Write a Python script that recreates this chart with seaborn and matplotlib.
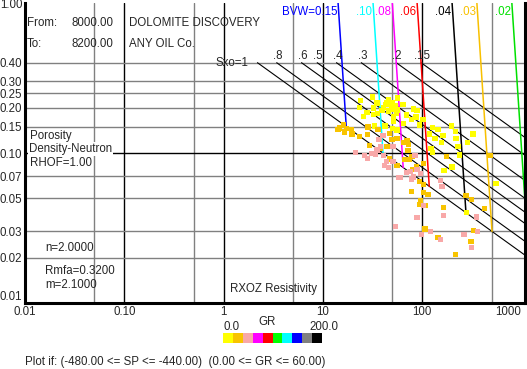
import numpy as np
import pandas as pd
import matplotlib
matplotlib.use("Agg")
import matplotlib.pyplot as plt
from matplotlib.colors import ListedColormap
import seaborn as sns

W, H = 527, 369

# interpretation parameters printed on the chart
n_exp = 2.0
m_exp = 2.1
rmfa = 0.32

x_ticks = [0.01, 0.1, 1, 10, 100, 1000]
x_tick_labels = ["0.01", "0.10", "1", "10", "100", "1000"]
y_ticks = [0.01, 0.02, 0.03, 0.05, 0.07, 0.10, 0.15, 0.20, 0.25, 0.30, 0.40, 1.00]
y_tick_labels = ["0.01", "0.02", "0.03", "0.05", "0.07", "0.10", "0.15", "0.20", "0.25", "0.30", "0.40", "1.00"]

bvw_values = [0.15, 0.10, 0.08, 0.06, 0.04, 0.03, 0.02]
bvw_labels = ["BVW=0.15", ".10", ".08", ".06", ".04", ".03", ".02"]
bvw_colors = ["#0000ff", "#00ffff", "#ff00ff", "#ff0000", "#000000", "#f8c000", "#00e000"]

sxo_values = [1.0, 0.8, 0.6, 0.5, 0.4, 0.3, 0.2, 0.15]
sxo_labels = ["Sxo=1", ".8", ".6", ".5", ".4", ".3", ".2", ".15"]

gr_colors = ["#ffff00", "#f8c400", "#f8a8a8", "#ff00ff", "#ff0000",
             "#00ff00", "#00ffff", "#0000ff", "#808080", "#000000"]

# GR 0-20
yellow_rxo = [31.4, 45.9, 23.8, 56.6, 35.0, 42.5, 47.7, 53.6, 23.4, 32.4,
              49.6, 64.0, 82.0, 88.5, 27.8, 35.6, 39.4, 45.9, 54.8, 32.4,
              25.7, 69.2, 51.5, 86.5, 102, 77.6, 51.5, 65.0, 94.2, 33.0,
              42.2, 127, 196, 50.0, 55.7, 144, 215, 119, 162, 324,
              135, 220, 284, 156, 229, 123, 127, 199, 166, 238,
              552, 278, 44.2, 49.6, 52.0, 40.9, 55.7]
yellow_phi = [0.236, 0.226, 0.224, 0.232, 0.216, 0.210, 0.210, 0.207, 0.202, 0.199,
              0.196, 0.210, 0.196, 0.192, 0.187, 0.183, 0.192, 0.190, 0.185, 0.180,
              0.175, 0.179, 0.175, 0.174, 0.168, 0.168, 0.163, 0.158, 0.154, 0.151,
              0.151, 0.148, 0.151, 0.145, 0.142, 0.143, 0.139, 0.134, 0.131, 0.134,
              0.125, 0.125, 0.118, 0.117, 0.110, 0.107, 0.101, 0.0806, 0.0762, 0.0969,
              0.0628, 0.0402, 0.216, 0.218, 0.199, 0.202, 0.194]

# GR 20-40
orange_rxo = [14.6, 16.2, 14.2, 17.2, 19.3, 16.4, 19.6, 23.3, 28.5, 28.2,
              35.9, 46.6, 49.6, 55.7, 70.3, 65.0, 73.0, 29.3, 37.8, 44.2,
              71.9, 47.0, 55.7, 66.0, 73.6, 78.8, 103, 87.1, 80.7, 94.2,
              103, 114, 103, 177, 484, 77.6, 95.7, 93.5, 107, 163,
              276, 315, 422, 107, 144, 327, 310, 215]
orange_phi = [0.147, 0.154, 0.143, 0.145, 0.142, 0.138, 0.134, 0.129, 0.149, 0.133,
              0.143, 0.135, 0.123, 0.125, 0.120, 0.117, 0.114, 0.112, 0.108, 0.111,
              0.104, 0.0912, 0.0827, 0.0902, 0.0902, 0.0950, 0.0849, 0.0806, 0.0774, 0.0647,
              0.0618, 0.0527, 0.0547, 0.0950, 0.0964, 0.0555, 0.0483, 0.0452, 0.0446, 0.0434,
              0.0522, 0.0489, 0.0428, 0.0311, 0.0274, 0.0305, 0.0258, 0.0211]

# GR 40-60
pink_rxo = [40.3, 36.7, 21.2, 26.1, 28.2, 30.7, 33.7, 35.0, 37.8, 40.9,
            50.8, 50.8, 43.5, 41.5, 45.6, 84.5, 69.2, 75.9, 88.5, 95.7,
            57.9, 60.1, 78.2, 82.0, 152, 158, 103, 164, 88.5, 53.6,
            351, 121, 97.9, 152, 263, 359, 312]
pink_phi = [0.131, 0.123, 0.101, 0.0964, 0.0917, 0.0995, 0.0975, 0.105, 0.110, 0.0964,
            0.110, 0.0879, 0.0879, 0.0827, 0.0798, 0.0964, 0.0743, 0.0755, 0.0774, 0.0728,
            0.0684, 0.0684, 0.0670, 0.0692, 0.0657, 0.0596, 0.0448, 0.0384, 0.0372, 0.0324,
            0.0374, 0.0300, 0.0285, 0.0264, 0.0285, 0.0300, 0.0235]

points = pd.concat([
    pd.DataFrame({"rxo": yellow_rxo, "phi": yellow_phi, "gr": "0-20"}),
    pd.DataFrame({"rxo": orange_rxo, "phi": orange_phi, "gr": "20-40"}),
    pd.DataFrame({"rxo": pink_rxo, "phi": pink_phi, "gr": "40-60"}),
], ignore_index=True)

sns.set_style("white")
plt.rcParams["font.family"] = ["Liberation Sans", "DejaVu Sans"]
FS = 8.3

fig = plt.figure(figsize=(W / 100, H / 100), dpi=100)
ax = fig.add_axes([25 / W, 1 - 303 / H, 500 / W, 300 / H])
ax.set_xscale("log")
ax.set_yscale("log")
xmax = 1085
ax.set_xlim(0.01, xmax)
ax.set_ylim(0.01, 1.0)

# grid
for xv in [0.05, 0.5, 5, 50, 500]:
    ax.axvline(xv, color="#808080", lw=1, zorder=1)
for xv in [0.1, 1, 10, 100]:
    ax.axvline(xv, color="black", lw=1, zorder=1)
for yv in [0.02, 0.03, 0.05, 0.07, 0.15, 0.20, 0.25, 0.30, 0.40]:
    ax.axhline(yv, color="#808080", lw=1, zorder=1)
ax.axhline(0.10, color="black", lw=1, zorder=1)

# Sxo lines
for s, lab in zip(sxo_values, sxo_labels):
    r0 = rmfa / (0.4 ** m_exp * s ** n_exp)
    r = np.geomspace(r0, xmax, 100)
    phi = (rmfa / (r * s ** n_exp)) ** (1 / m_exp)
    ax.plot(r, phi, color="black", lw=0.8, zorder=2)
    if s == 1.0:
        ax.annotate(lab, (r0, 0.4), xytext=(-9, 0), textcoords="offset pixels",
                    ha="right", va="center", fontsize=FS)
    else:
        ax.annotate(lab, (r0, 0.4), xytext=(1, 1), textcoords="offset pixels",
                    ha="center", va="bottom", fontsize=FS)

# BVW lines
for b, lab, c in zip(bvw_values, bvw_labels, bvw_colors):
    phi = np.geomspace(b, 1.0, 100)
    r = rmfa * phi ** (n_exp - m_exp) / b ** n_exp
    ax.plot(r, phi, color=c, lw=1.1, zorder=2)
    ax.annotate(lab, (r[-1], 1.0), xytext=(-1, -9), textcoords="offset pixels",
                ha="right", va="center", fontsize=FS, color=c)

sns.scatterplot(data=points, x="rxo", y="phi", hue="gr",
                palette={"0-20": gr_colors[0], "20-40": gr_colors[1], "40-60": gr_colors[2]},
                marker="s", s=15, linewidth=0, legend=False, ax=ax, zorder=3)

ax.set_xlabel("")
ax.set_ylabel("")
ax.set_xticks(x_ticks)
ax.set_xticklabels(x_tick_labels)
ax.set_yticks(y_ticks)
ax.set_yticklabels(y_tick_labels)
ax.minorticks_off()
ax.tick_params(length=0, labelsize=FS, pad=2)
ax.get_xticklabels()[-1].set_horizontalalignment("right")
ax.get_yticklabels()[0].set_verticalalignment("bottom")
for side in ["left", "bottom", "right"]:
    ax.spines[side].set_visible(True)
    ax.spines[side].set_color("black")
    ax.spines[side].set_linewidth(2.2)
ax.spines["top"].set_visible(False)


def px_text(x, y, s, **kw):
    fig.text(x / W, 1 - y / H, s, va="center", fontsize=FS, **kw)


px_text(27, 23, "From:")
px_text(71, 23, "8000.00")
px_text(129, 23, "DOLOMITE DISCOVERY")
px_text(27, 44, "To:")
px_text(71, 44, "8200.00")
px_text(129, 44, "ANY OIL Co.")
px_text(30, 136, "Porosity")
px_text(29, 149, "Density-Neutron",
        bbox=dict(facecolor="white", edgecolor="none", pad=0.5))
px_text(30, 163, "RHOF=1.00")
px_text(45, 248, "n=2.0000")
px_text(45, 271, "Rmfa=0.3200")
px_text(45, 285, "m=2.1000")
px_text(230, 289, "RXOZ Resistivity")
px_text(223, 327, "0.0")
px_text(267, 322, "GR", ha="center")
px_text(338, 327, "200.0", ha="right")
px_text(25, 362, "Plot if: (-480.00 <= SP <= -440.00)  (0.00 <= GR <= 60.00)")

# GR colour key
cax = fig.add_axes([223 / W, 1 - 343 / H, 99 / W, 10 / H])
sns.heatmap(np.arange(len(gr_colors)).reshape(1, -1), cmap=ListedColormap(gr_colors),
            cbar=False, xticklabels=False, yticklabels=False, ax=cax)

fig.savefig("out.png", dpi=100)
